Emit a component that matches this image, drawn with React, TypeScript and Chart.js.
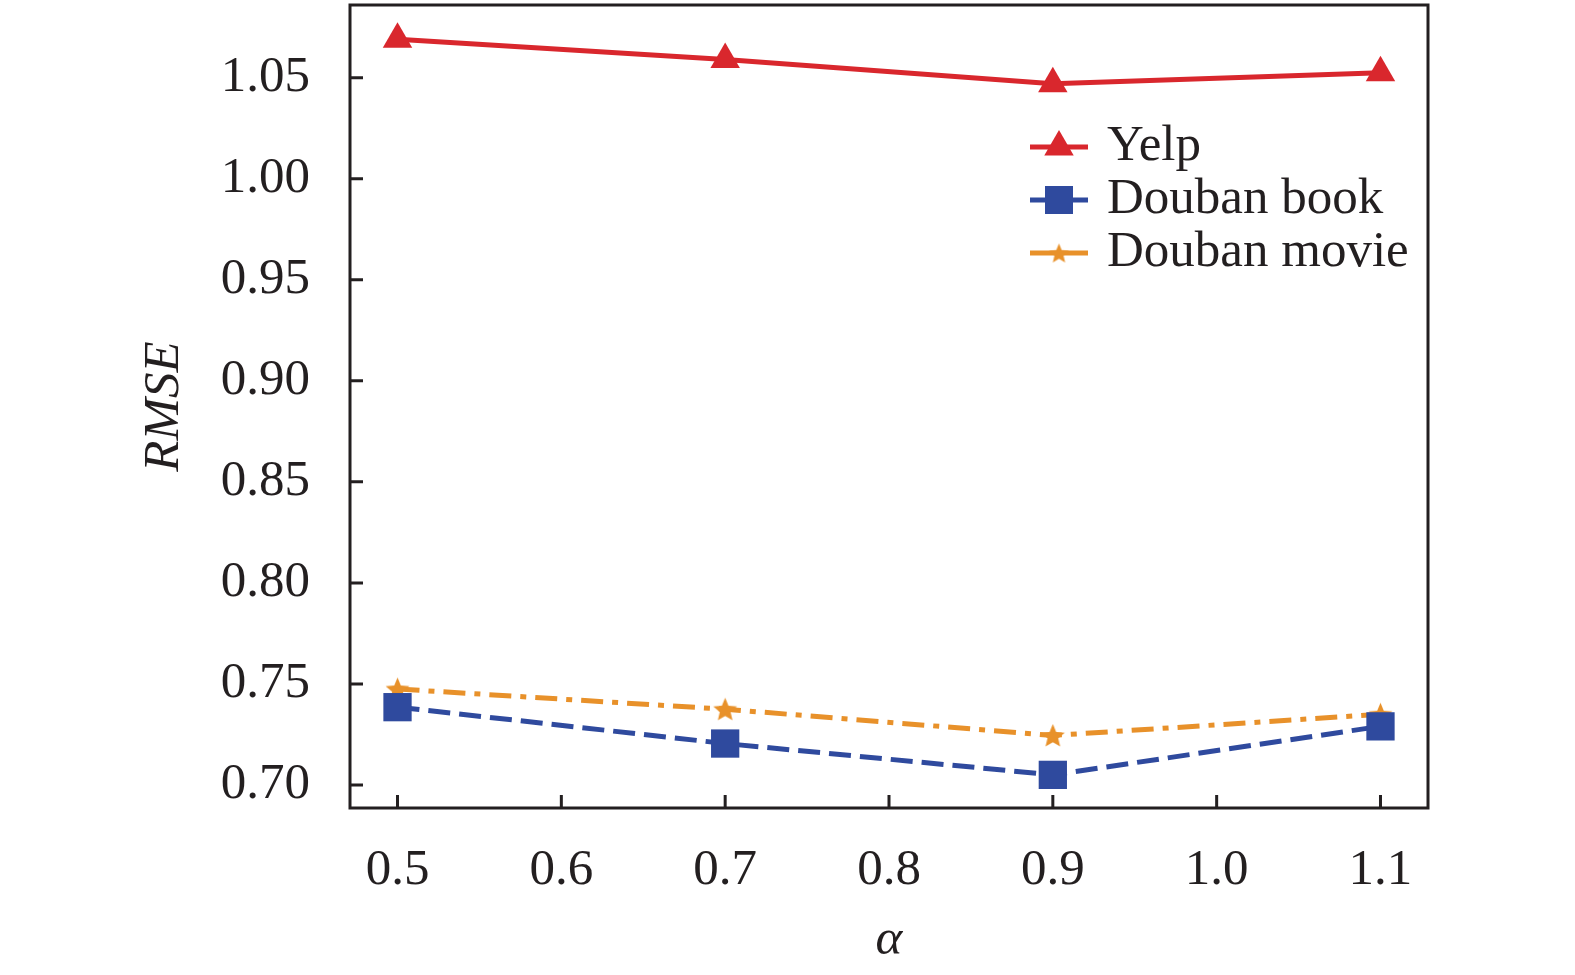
import React, { useEffect, useRef } from "react";
import { Chart, registerables } from "chart.js";

Chart.register(...registerables);

const alphaValues = [0.5, 0.7, 0.9, 1.1];
const yelpRmse = [1.069, 1.059, 1.047, 1.0525];
const doubanBookRmse = [0.7385, 0.7205, 0.705, 0.729];
const doubanMovieRmse = [0.7475, 0.7375, 0.7245, 0.735];

const xTickValues = [0.5, 0.6, 0.7, 0.8, 0.9, 1.0, 1.1];
const yTickValues = [0.7, 0.75, 0.8, 0.85, 0.9, 0.95, 1.0, 1.05];

const RED = "#d9272d";
const BLUE = "#2f4a9e";
const ORANGE = "#e8912a";
const INK = "#231f20";
const FONT = "'Liberation Serif', 'Times New Roman', serif";
const FS = 51;

// filled five-point star used as point image
const makeStar = (size: number, color: string) => {
  const c = document.createElement("canvas");
  c.width = size;
  c.height = size;
  const g = c.getContext("2d")!;
  const cx = size / 2;
  const cy = size / 2 + 1;
  const outer = size / 2 - 1;
  const inner = outer * 0.45;
  g.beginPath();
  for (let i = 0; i < 10; i++) {
    const r = i % 2 === 0 ? outer : inner;
    const a = -Math.PI / 2 + (i * Math.PI) / 5;
    const px = cx + Math.cos(a) * r;
    const py = cy + Math.sin(a) * r;
    if (i === 0) g.moveTo(px, py);
    else g.lineTo(px, py);
  }
  g.closePath();
  g.fillStyle = color;
  g.fill();
  return c;
};

const App: React.FC = () => {
  const chartRef = useRef<HTMLCanvasElement>(null);
  const chartInstance = useRef<Chart | null>(null);

  useEffect(() => {
    if (!chartRef.current) return;
    const ctx = chartRef.current.getContext("2d");
    if (!ctx) return;

    const star = makeStar(27, ORANGE);
    const legendStar = makeStar(23, ORANGE);

    const toPoints = (vals: number[]) =>
      vals.map((v, i) => ({ x: alphaValues[i], y: v }));

    // frame, inward ticks and legend
    const framePlugin = {
      id: "frame",
      afterDraw(chart: any) {
        const { ctx: c, chartArea: a, scales } = chart;
        c.save();
        c.strokeStyle = INK;
        c.lineWidth = 3;
        c.setLineDash([]);
        c.strokeRect(a.left, a.top, a.right - a.left, a.bottom - a.top);
        c.beginPath();
        xTickValues.forEach((v) => {
          const px = scales.x.getPixelForValue(v);
          c.moveTo(px, a.bottom);
          c.lineTo(px, a.bottom - 13);
        });
        yTickValues.forEach((v) => {
          const py = scales.y.getPixelForValue(v);
          c.moveTo(a.left, py);
          c.lineTo(a.left + 13, py);
        });
        c.stroke();

        // legend
        const lx0 = 1030;
        const lx1 = 1088;
        const mx = (lx0 + lx1) / 2;
        const rows = [147, 200, 253];
        chart.data.datasets.forEach((ds: any, i: number) => {
          const y = rows[i];
          c.beginPath();
          c.strokeStyle = ds.borderColor;
          c.lineWidth = ds.borderWidth;
          c.setLineDash([]);
          c.moveTo(lx0, y);
          c.lineTo(lx1, y);
          c.stroke();
          c.fillStyle = ds.borderColor;
          if (ds.pointStyle === "triangle") {
            const r = 17;
            c.beginPath();
            c.moveTo(mx, y - r);
            c.lineTo(mx + r * 0.866, y + r / 2);
            c.lineTo(mx - r * 0.866, y + r / 2);
            c.closePath();
            c.fill();
          } else if (ds.pointStyle === "rect") {
            c.fillRect(mx - 14, y - 14, 28, 28);
          } else {
            c.drawImage(legendStar, mx - 11.5, y - 11.5);
          }
          c.fillStyle = INK;
          c.font = `${FS}px ${FONT}`;
          c.textBaseline = "middle";
          c.textAlign = "left";
          c.fillText(ds.label, 1107, y);
        });
        c.restore();
      },
    };

    chartInstance.current = new Chart(ctx, {
      type: "line",
      data: {
        datasets: [
          {
            label: "Yelp",
            data: toPoints(yelpRmse),
            borderColor: RED,
            backgroundColor: RED,
            borderWidth: 5,
            pointStyle: "triangle",
            pointRadius: 17,
            pointBorderWidth: 0,
          },
          {
            label: "Douban book",
            data: toPoints(doubanBookRmse),
            borderColor: BLUE,
            backgroundColor: BLUE,
            borderWidth: 5,
            borderDash: [22, 9],
            pointStyle: "rect",
            pointRadius: 20,
            pointBorderWidth: 0,
          },
          {
            label: "Douban movie",
            data: toPoints(doubanMovieRmse),
            borderColor: ORANGE,
            backgroundColor: ORANGE,
            borderWidth: 5,
            borderDash: [22, 9, 6, 9],
            pointStyle: star as any,
            pointRadius: 13,
            pointBorderWidth: 0,
          },
        ],
      },
      options: {
        responsive: false,
        maintainAspectRatio: false,
        animation: false,
        devicePixelRatio: 1,
        layout: {
          autoPadding: false,
          padding: { top: 5, right: 147, left: 0, bottom: 0 },
        },
        plugins: {
          legend: { display: false },
          tooltip: { enabled: false },
        },
        scales: {
          x: {
            type: "linear",
            min: 0.471,
            max: 1.129,
            afterBuildTicks: (scale: any) => {
              scale.ticks = xTickValues.map((v) => ({ value: v }));
            },
            afterFit: (scale: any) => {
              scale.height = 167;
              scale.paddingLeft = 0;
              scale.paddingRight = 0;
            },
            grid: { display: false, drawTicks: false },
            border: { display: false },
            ticks: {
              color: INK,
              font: { family: FONT, size: FS },
              padding: 32,
              maxRotation: 0,
              callback: (v: any) => Number(v).toFixed(1),
            },
            title: {
              display: true,
              text: "α",
              color: INK,
              font: { family: FONT, size: FS, style: "italic" },
              padding: { top: 0, bottom: 4 },
            },
          },
          y: {
            type: "linear",
            min: 0.6886,
            max: 1.086,
            afterBuildTicks: (scale: any) => {
              scale.ticks = yTickValues.map((v) => ({ value: v }));
            },
            afterFit: (scale: any) => {
              scale.width = 350;
              scale.paddingTop = 0;
              scale.paddingBottom = 0;
            },
            grid: { display: false, drawTicks: false },
            border: { display: false },
            ticks: {
              color: INK,
              font: { family: FONT, size: FS },
              padding: 40,
              callback: (v: any) => Number(v).toFixed(2),
            },
            title: {
              display: true,
              text: "RMSE",
              color: INK,
              font: { family: FONT, size: FS, style: "italic" },
              padding: { top: 134, bottom: 0 },
            },
          },
        },
      },
      plugins: [framePlugin],
    } as any);

    return () => {
      if (chartInstance.current) {
        chartInstance.current.destroy();
        chartInstance.current = null;
      }
    };
  }, []);

  return (
    <div
      style={{
        position: "absolute",
        left: 0,
        top: 0,
        width: 1575,
        height: 975,
        background: "#fff",
      }}
    >
      <canvas
        ref={chartRef}
        width={1575}
        height={975}
        style={{ display: "block", width: 1575, height: 975 }}
      ></canvas>
    </div>
  );
};

export default App;
